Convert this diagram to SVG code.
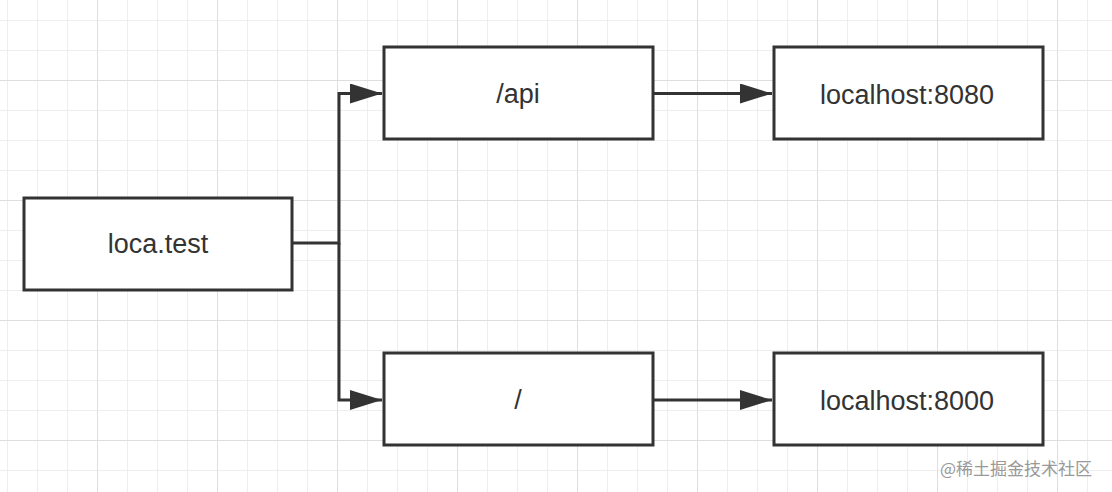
<svg xmlns="http://www.w3.org/2000/svg" width="1112" height="492" viewBox="0 0 1112 492">
<defs>
<pattern id="minor" x="7" y="20" width="30" height="30" patternUnits="userSpaceOnUse">
<path d="M0 0V30M0 0H30" fill="none" stroke="#e9e9e9" stroke-width="1.5"/>
</pattern>
<pattern id="major" x="97" y="80" width="120" height="120" patternUnits="userSpaceOnUse">
<path d="M0 0V120M0 0H120" fill="none" stroke="#dedede" stroke-width="2"/>
</pattern>
<marker id="arr" viewBox="0 0 32 20" refX="32" refY="10" markerWidth="32" markerHeight="20" markerUnits="userSpaceOnUse" orient="auto">
<path d="M0 0L32 10L0 20Z" fill="#333"/>
</marker>
<style>
.box{fill:#fff;stroke:#333;stroke-width:3}
.lbl{font-family:"Liberation Sans","Noto Sans",Arial,sans-serif;font-size:27px;fill:#333;text-anchor:middle;dominant-baseline:central}
.edge{fill:none;stroke:#333;stroke-width:3}
</style>
</defs>
<rect width="1112" height="492" fill="#fff"/>
<rect width="1112" height="492" fill="url(#minor)"/>
<rect width="1112" height="492" fill="url(#major)"/>
<g id="connectors">
<path class="edge" d="M292 243H339V93.5H382" marker-end="url(#arr)"/>
<path class="edge" d="M339 243V400H382" marker-end="url(#arr)"/>
<path class="edge" d="M653 93.5H772" marker-end="url(#arr)"/>
<path class="edge" d="M653 400H772" marker-end="url(#arr)"/>
</g>
<g id="node-loca">
<rect class="box" x="24" y="198" width="268" height="92"/>
<text class="lbl" x="158" y="244">loca.test</text>
</g>
<g id="node-api">
<rect class="box" x="384" y="47" width="269" height="92"/>
<text class="lbl" x="518" y="94">/api</text>
</g>
<g id="node-8080">
<rect class="box" x="774" y="47" width="269" height="92"/>
<text class="lbl" x="907" y="95">localhost:8080</text>
</g>
<g id="node-root">
<rect class="box" x="384" y="353" width="269" height="92"/>
<text class="lbl" x="518" y="400">/</text>
</g>
<g id="node-8000">
<rect class="box" x="774" y="353" width="269" height="92"/>
<text class="lbl" x="907" y="401">localhost:8000</text>
</g>
<text x="1016" y="467" font-family="'Noto Sans CJK SC','Liberation Sans',sans-serif" font-size="17" fill="#999" text-anchor="middle" dominant-baseline="central">@稀土掘金技术社区</text>
</svg>
